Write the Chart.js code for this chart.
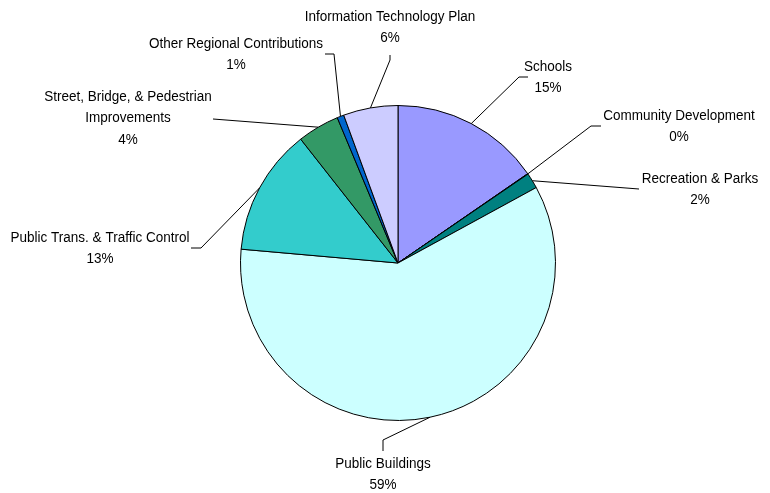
<!DOCTYPE html>
<html>
<head>
<meta charset="utf-8">
<script src="https://cdn.jsdelivr.net/npm/chart.js@4/dist/chart.umd.min.js"></script>
<style>
  html, body { margin: 0; padding: 0; background: #fff; }
  #wrap { width: 770px; height: 493px; }
</style>
</head>
<body>
<div id="wrap"><canvas id="pie" width="770" height="493"></canvas></div>
<script>
// budget share by category, percent
const categories = [
  'Schools',
  'Community Development',
  'Recreation & Parks',
  'Public Buildings',
  'Public Trans. & Traffic Control',
  'Street, Bridge, & Pedestrian Improvements',
  'Other Regional Contributions',
  'Information Technology Plan'
];
const shares = [15.4, 0.05, 1.6, 59.35, 13.0, 4.3, 0.7, 5.6];
const colors = ['#9999FF', '#993366', '#008080', '#CCFFFF', '#33CCCC', '#339966', '#0066CC', '#CCCCFF'];

// how each label is broken into lines
const labelLines = [
  ['Schools'],
  ['Community Development'],
  ['Recreation & Parks'],
  ['Public Buildings'],
  ['Public Trans. & Traffic Control'],
  ['Street, Bridge, & Pedestrian', 'Improvements'],
  ['Other Regional Contributions'],
  ['Information Technology Plan']
];

// label placement: text centre x, first line y, leader bend points
const labelLayout = [
  { x: 548, y: 67,  bend: [[519, 77], [528, 77]] },
  { x: 679, y: 116, bend: [[591, 126], [601, 126]] },
  { x: 700, y: 179, bend: [[639, 189]] },
  { x: 383, y: 464, bend: [[383, 440], [383, 451]] },
  { x: 100, y: 238, bend: [[201, 248], [191, 248]] },
  { x: 128, y: 97,  bend: [[213, 119]] },
  { x: 236, y: 44,  bend: [[334, 54], [325, 54]] },
  { x: 390, y: 17,  bend: [[390, 60], [390, 55]] }
];

const LINE_H = 21.5;

const calloutPlugin = {
  id: 'callouts',
  afterDatasetsDraw(chart) {
    const ctx = chart.ctx;
    const arcs = chart.getDatasetMeta(0).data;
    ctx.save();
    ctx.strokeStyle = '#000';
    ctx.lineWidth = 1;
    ctx.fillStyle = '#000';
    ctx.font = '14px "Liberation Sans", Arial, sans-serif';
    ctx.textAlign = 'center';
    ctx.textBaseline = 'middle';
    arcs.forEach((arc, i) => {
      const p = arc.getProps(['x', 'y', 'startAngle', 'endAngle', 'outerRadius'], true);
      const mid = (p.startAngle + p.endAngle) / 2;
      const sx = p.x + Math.cos(mid) * p.outerRadius;
      const sy = p.y + Math.sin(mid) * p.outerRadius;
      const lay = labelLayout[i];
      ctx.beginPath();
      ctx.moveTo(sx, sy);
      lay.bend.forEach(([bx, by]) => ctx.lineTo(bx, by));
      ctx.stroke();

      const lines = labelLines[i].concat([Math.round(shares[i]) + '%']);
      lines.forEach((t, k) => {
        ctx.save();
        ctx.translate(lay.x, lay.y + k * LINE_H);
        ctx.scale(0.965, 1);
        ctx.fillText(t, 0, 0);
        ctx.restore();
      });
    });
    ctx.restore();
  }
};

new Chart(document.getElementById('pie').getContext('2d'), {
  type: 'pie',
  data: {
    labels: categories,
    datasets: [{
      data: shares,
      backgroundColor: colors,
      borderColor: '#000',
      borderWidth: 1
    }]
  },
  options: {
    responsive: false,
    animation: false,
    layout: { padding: { top: 105, bottom: 72, left: 240, right: 214 } },
    plugins: {
      legend: { display: false },
      tooltip: { enabled: false }
    }
  },
  plugins: [calloutPlugin]
});
</script>
</body>
</html>
